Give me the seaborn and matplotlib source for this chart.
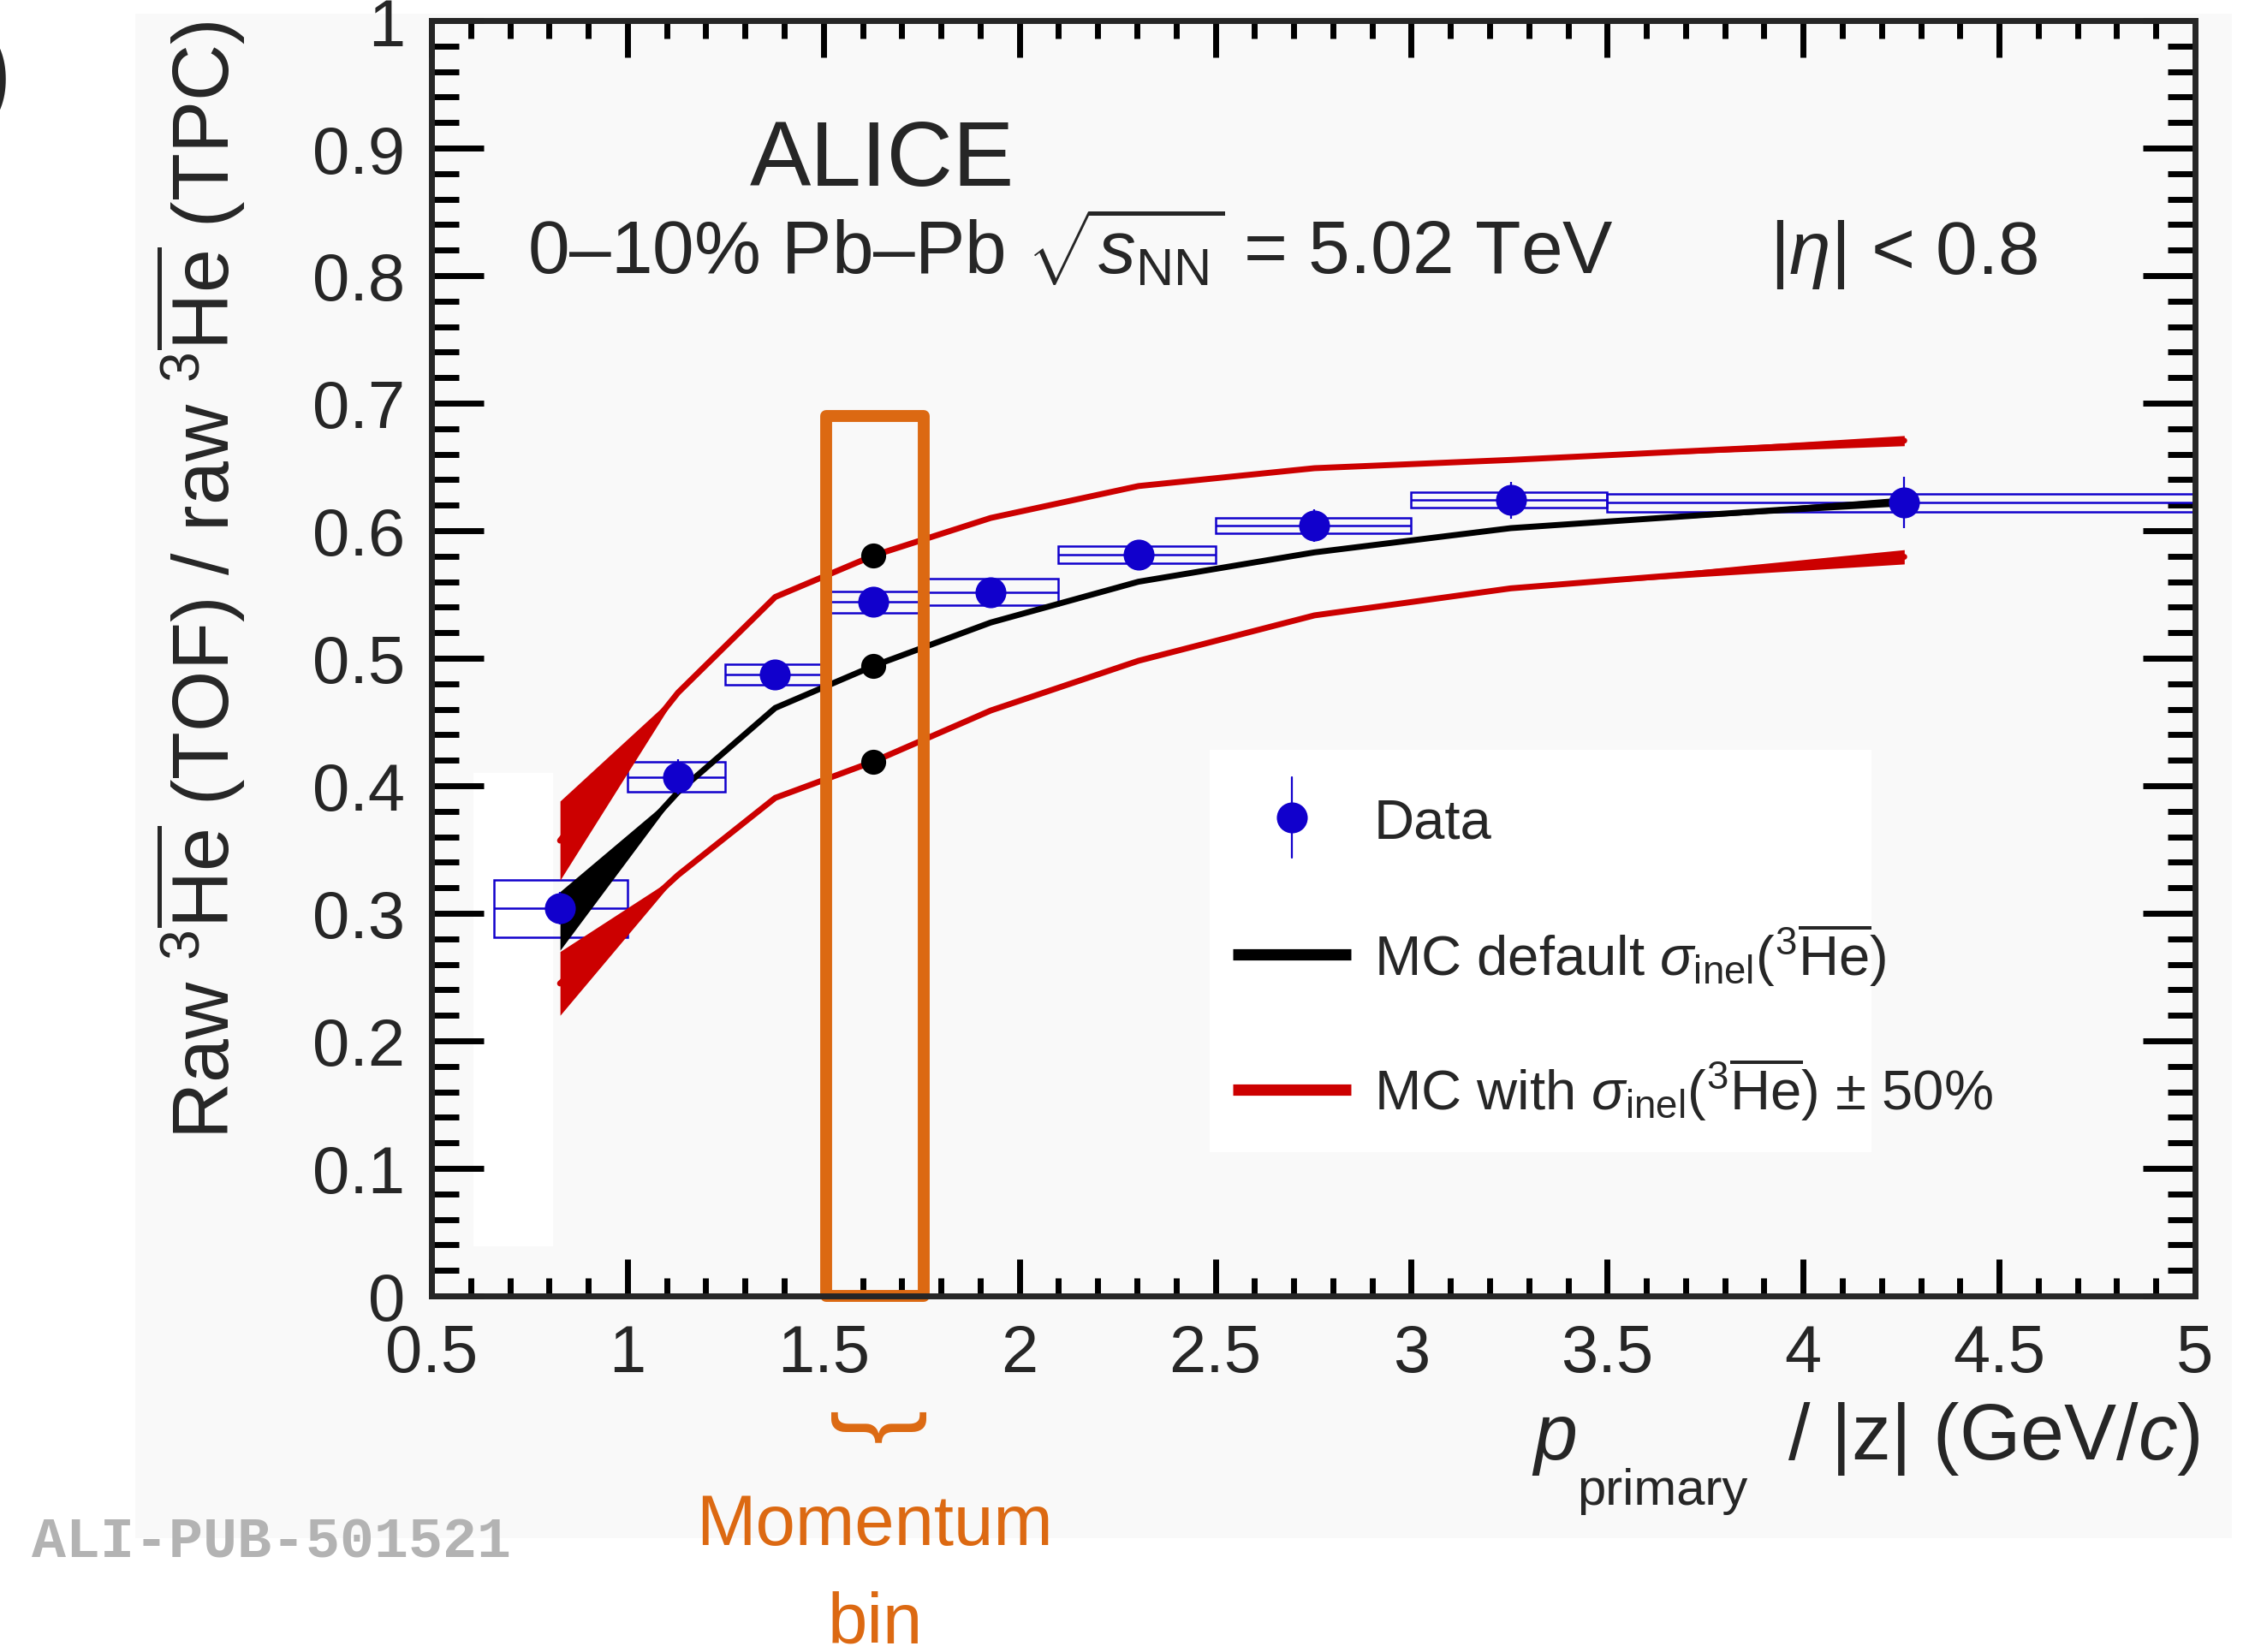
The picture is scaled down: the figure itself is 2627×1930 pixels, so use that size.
import matplotlib
matplotlib.use("Agg")
import matplotlib.pyplot as plt
import numpy as np
import pandas as pd
import seaborn as sns
from matplotlib.patches import Rectangle
from matplotlib.ticker import MultipleLocator, FuncFormatter

# ---- measured ratio TOF/TPC per momentum bin ----
p_mean = [0.828, 1.129, 1.377, 1.628, 1.927, 2.304, 2.753, 3.254, 4.258]
bin_low = [0.66, 1.00, 1.25, 1.50, 1.75, 2.10, 2.50, 3.00, 3.50]
bin_high = [1.00, 1.25, 1.50, 1.75, 2.10, 2.50, 3.00, 3.50, 5.00]
ratio = [0.304, 0.407, 0.487, 0.544, 0.552, 0.581, 0.604, 0.624, 0.622]
stat_err = [0.013, 0.014, 0.011, 0.011, 0.011, 0.011, 0.013, 0.0145, 0.020]
syst_err = [0.0225, 0.012, 0.008, 0.0086, 0.0104, 0.0068, 0.0058, 0.0062, 0.007]

# ---- MC predictions (central value and half width of the band) ----
mc_default = [0.294, 0.395, 0.461, 0.494, 0.528, 0.560, 0.583, 0.602, 0.623]
mc_default_unc = [0.023, 0.0, 0.0, 0.0, 0.0, 0.0, 0.0, 0.0, 0.0034]
mc_sigma_low = [0.357, 0.473, 0.548, 0.5805, 0.610, 0.635, 0.649, 0.6555, 0.6706]
mc_sigma_low_unc = [0.031, 0.0, 0.0, 0.0, 0.0, 0.0, 0.0, 0.0, 0.004]
mc_sigma_high = [0.245, 0.330, 0.3905, 0.419, 0.459, 0.498, 0.5336, 0.5548, 0.5795]
mc_sigma_high_unc = [0.025, 0.0, 0.0, 0.0, 0.0, 0.0, 0.0, 0.0, 0.0056]

highlight_bin = 3  # 1.5 < p < 1.75 GeV/c

BLUE = "#1100cc"
RED = "#cc0000"
ORANGE = "#dc6912"

sns.set_theme(style="ticks")
plt.rcParams["font.family"] = ["Liberation Sans", "DejaVu Sans"]
plt.rcParams["mathtext.fontset"] = "custom"
plt.rcParams["mathtext.rm"] = "Liberation Sans"
plt.rcParams["mathtext.it"] = "Liberation Sans:italic"
plt.rcParams["mathtext.bf"] = "Liberation Sans:bold"
plt.rcParams["axes.linewidth"] = 5

W, H = 2627, 1931
fig = plt.figure(figsize=(W / 100, H / 100), dpi=100)
fig.patch.set_facecolor("white")
fig.patches.append(Rectangle((158 / W, 1 - 1798 / H), (2607 - 158) / W, (1798 - 17) / H,
                             transform=fig.transFigure, facecolor="#f9f9f9",
                             edgecolor="none", zorder=-10))

ax = fig.add_axes([504 / W, 1 - 1515 / H, 2060 / W, 1490 / H])
ax.set_facecolor("none")
ax.set_xlim(0.5, 5.0)
ax.set_ylim(0.0, 1.0)

# white patch at low momentum
ax.add_patch(Rectangle((0.0238, 0.039), 0.045, 0.371, transform=ax.transAxes,
                       facecolor="white", edgecolor="none", zorder=0.1))

# systematic boxes and bin widths
for lo, hi, y, s in zip(bin_low, bin_high, ratio, syst_err):
    ax.add_patch(Rectangle((lo, y - s), hi - lo, 2 * s, facecolor="none",
                           edgecolor=BLUE, lw=1.8, zorder=2))
ax.hlines(ratio, bin_low, bin_high, color=BLUE, lw=1.8, zorder=2)

# MC curves with bands
curves = [
    ("default", mc_default, mc_default_unc, "black"),
    ("low", mc_sigma_low, mc_sigma_low_unc, RED),
    ("high", mc_sigma_high, mc_sigma_high_unc, RED),
]
for name, vals, unc, col in curves:
    v = np.asarray(vals)
    u = np.asarray(unc)
    ax.fill_between(p_mean, v - u, v + u, color=col, lw=0, zorder=3)
    df = pd.DataFrame({"p": p_mean, "r": vals})
    sns.lineplot(data=df, x="p", y="r", color=col, lw=5, ax=ax, zorder=3,
                 legend=False, estimator=None, sort=False)

# data points
ax.errorbar(p_mean, ratio, yerr=stat_err, fmt="none", ecolor=BLUE, elinewidth=1.6,
            capsize=0, zorder=4)
sns.scatterplot(x=p_mean, y=ratio, color=BLUE, s=26 ** 2, linewidth=0, ax=ax,
                zorder=5, legend=False)

# highlighted momentum bin
ax.add_patch(Rectangle((1.508, 0.0), 0.247, 0.690, facecolor="none", edgecolor=ORANGE,
                       lw=10, joinstyle="round", zorder=7, clip_on=False))
sel_x = [p_mean[highlight_bin]] * 3
sel_y = [mc_sigma_low[highlight_bin], mc_default[highlight_bin], mc_sigma_high[highlight_bin]]
ax.plot(sel_x, sel_y, "o", color="black", ms=21, mew=0, zorder=8)

# axes styling
ax.xaxis.set_major_locator(MultipleLocator(0.5))
ax.xaxis.set_minor_locator(MultipleLocator(0.1))
ax.yaxis.set_major_locator(MultipleLocator(0.1))
ax.yaxis.set_minor_locator(MultipleLocator(0.02))
fmt = FuncFormatter(lambda v, _: f"{v:g}")
ax.xaxis.set_major_formatter(fmt)
ax.yaxis.set_major_formatter(fmt)
ax.tick_params(which="both", direction="in", top=True, right=True, width=5, color="black")
ax.tick_params(axis="x", which="major", length=31, labelsize=56, pad=22)
ax.tick_params(axis="x", which="minor", length=15)
ax.tick_params(axis="y", which="major", length=44, labelsize=56, pad=22)
ax.tick_params(axis="y", which="minor", length=23)
for sp in ax.spines.values():
    sp.set_visible(True)
    sp.set_linewidth(5)
    sp.set_zorder(9)

ax.set_ylabel(r"Raw $^{3}\overline{\rm He}$ (TOF) / raw $^{3}\overline{\rm He}$ (TPC)",
              fontsize=66, ha="right", va="baseline", rotation_mode="anchor")
ax.yaxis.set_label_coords(-0.1146, 1.0)

# x title: p_primary / |z| (GeV/c), with a lowered subscript
ax.set_xlabel(r"/ |z| (GeV/$c$)", fontsize=66, ha="right", va="baseline")
ax.xaxis.set_label_coords(1.003, -0.1275)
ax.text(0.6238, -0.1275, r"$p$", fontsize=66, transform=ax.transAxes,
        ha="left", va="baseline")
ax.text(0.6495, -0.1631, "primary", fontsize=43, transform=ax.transAxes,
        ha="left", va="baseline")

# header texts
ax.text(1.649, 0.871, "ALICE", fontsize=77, ha="center", va="baseline", zorder=10)
ax.text(0.745, 0.802, r"0–10% Pb–Pb $\sqrt{s_{\rm NN}}$ = 5.02 TeV", fontsize=63,
        ha="left", va="baseline", zorder=10)
ax.text(3.914, 0.802, r"|$\eta$| < 0.8", fontsize=63, ha="left", va="baseline", zorder=10)

# legend
ax.add_patch(Rectangle((0.4413, 0.1128), 0.3752, 0.3154, transform=ax.transAxes,
                       facecolor="white", edgecolor="none", zorder=5.5))
ax.plot([0.4879, 0.4879], [0.3752 - 0.0315, 0.3752 + 0.0315], color=BLUE, lw=1.6,
        transform=ax.transAxes, zorder=6)
ax.plot([0.4879], [0.3752], "o", color=BLUE, ms=26, mew=0, transform=ax.transAxes, zorder=6)
ax.plot([0.4544, 0.5214], [0.2678, 0.2678], color="black", lw=9.5, solid_capstyle="butt",
        transform=ax.transAxes, zorder=6)
ax.plot([0.4544, 0.5214], [0.1617, 0.1617], color=RED, lw=9.5, solid_capstyle="butt",
        transform=ax.transAxes, zorder=6)
ax.text(0.5345, 0.3594, "Data", fontsize=47, transform=ax.transAxes, va="baseline", zorder=6)
ax.text(0.5345, 0.2520, r"MC default $\sigma_{\rm inel}$($^{3}\overline{\rm He}$)", fontsize=47,
        transform=ax.transAxes, va="baseline", zorder=6)
ax.text(0.5345, 0.1460, r"MC with $\sigma_{\rm inel}$($^{3}\overline{\rm He}$) ± 50%", fontsize=47,
        transform=ax.transAxes, va="baseline", zorder=6)

# figure annotations
fig.text(14 / W, 1 - 92 / H, ")", fontsize=95, ha="right", va="center")
fig.text(37 / W, 1 - 1820 / H, "ALI-PUB-501521", fontsize=48, color="#b3b3b3",
         family="Liberation Mono", weight="bold", ha="left", va="baseline")
fig.text(1024 / W, 1 - 1668 / H, "}", fontsize=86, color=ORANGE, rotation=-90,
         ha="center", va="center")
fig.text(1022 / W, 1 - 1805 / H, "Momentum", fontsize=60, color=ORANGE, ha="center",
         va="baseline")
fig.text(1022 / W, 1 - 1920 / H, "bin", fontsize=60, color=ORANGE, ha="center",
         va="baseline")

fig.savefig("out.png", dpi=100, facecolor="white")
